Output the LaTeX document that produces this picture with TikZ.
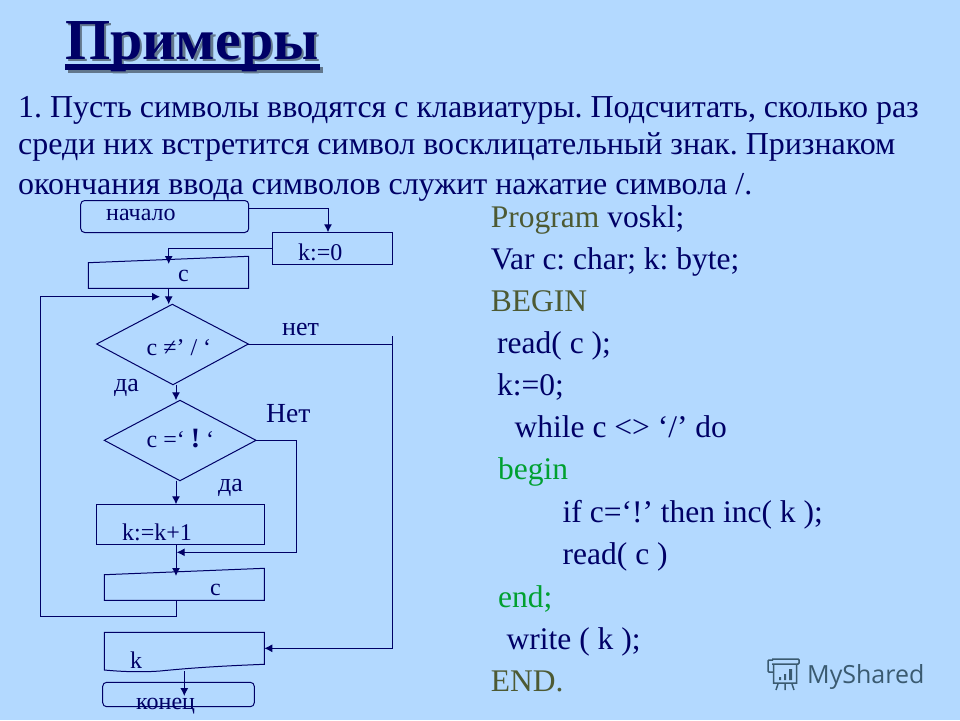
\documentclass[tikz,border=0pt]{standalone}
\usepackage{fontspec}
\setmainfont{Liberation Serif}
\newfontfamily\marksans{Open Sans}
\usetikzlibrary{arrows.meta}
\definecolor{bgblue}{HTML}{B3D9FF}
\definecolor{inkblue}{HTML}{000066}
\definecolor{codeolive}{HTML}{4D5A33}
\definecolor{codegreen}{HTML}{00A030}
\definecolor{markgray}{HTML}{3A5A70}
\frenchspacing
\begin{document}
\begin{tikzpicture}[x=1pt,y=-1pt,>={Latex[length=8pt,width=8pt]},
    block/.style = {draw=inkblue, line width=1pt, minimum width=#1, minimum height=32pt, inner sep=0pt},
    term/.style = {block=#1, rounded corners=4pt},
    flow/.style = {draw=inkblue, line width=1pt},
    txt/.style = {text=inkblue, anchor=base west, inner sep=0pt, font=\fontsize{24}{24}\selectfont},
    line/.style = {anchor=base west, inner sep=0pt, text=inkblue, font=\fontsize{31.95}{32}\selectfont},
    code/.style = {anchor=base west, inner sep=0pt, font=\fontsize{31.5}{31}\selectfont, text=inkblue}]
    \fill[bgblue] (0,0) rectangle (960,720);
    % title
    \node[anchor=base west, inner sep=0pt, text=black!45!bgblue, font=\bfseries\fontsize{58}{58}\selectfont] (titleshade) at (67.5,61.5) {Примеры};
    \fill[black!45!bgblue] (67.5,66.5) rectangle (322.5,72.5);
    \node[anchor=base west, inner sep=0pt, text=inkblue, font=\bfseries\fontsize{58}{58}\selectfont] (title) at (65,59) {Примеры};
    \fill[inkblue] (65,64) rectangle (320,70);
    % task
    \node[line] (t1) at (18,117.5) {1. Пусть символы вводятся с клавиатуры. Подсчитать, сколько раз};
    \node[line] (t2) at (18,154) {среди них встретится символ восклицательный знак. Признаком};
    \node[line] (t3) at (18,194) {окончания ввода символов служит нажатие символа /.};
    % flowchart boxes
    \node[term=168pt] (start) at (164.7,216.5) {};
    \node[block=120pt] (zero) at (332.3,248) {};
    \node[coordinate] (readnw) at (88.3,262.7) {};
    \node[coordinate] (readne) at (248.7,256.3) {};
    \node[coordinate] (readse) at (248.7,288.3) {};
    \node[coordinate] (readsw) at (88.3,288.3) {};
    \draw[flow] (readnw) -- (readne) -- (readse) -- (readsw) -- cycle;
    \node[coordinate] (d1n) at (172.3,304.3) {};
    \node[coordinate] (d1e) at (248.3,344) {};
    \node[coordinate] (d1s) at (173,384.7) {};
    \node[coordinate] (d1w) at (96.7,344) {};
    \draw[flow] (d1n) -- (d1e) -- (d1s) -- (d1w) -- cycle;
    \node[coordinate] (d2n) at (180,400.3) {};
    \node[coordinate] (d2e) at (256,440.3) {};
    \node[coordinate] (d2s) at (180,480.7) {};
    \node[coordinate] (d2w) at (104.3,440.3) {};
    \draw[flow] (d2n) -- (d2e) -- (d2s) -- (d2w) -- cycle;
    \node[block=168pt, minimum height=40pt] (inc) at (180.3,524.3) {};
    \node[coordinate] (againnw) at (104.3,574.7) {};
    \node[coordinate] (againne) at (264.3,568.3) {};
    \node[coordinate] (againse) at (264.3,600.3) {};
    \node[coordinate] (againsw) at (104.3,600.3) {};
    \draw[flow] (againnw) -- (againne) -- (againse) -- (againsw) -- cycle;
    \node[coordinate] (outnw) at (104.3,632.3) {};
    \node[coordinate] (outne) at (264.3,632.3) {};
    \node[coordinate] (outse) at (264.3,664.3) {};
    \node[coordinate] (outsw) at (104.3,670) {};
    \draw[flow] (outnw) -- (outne) -- (outse) .. controls (220,666) and (190,668) .. (160,671) .. controls (140,672.5) and (120,671.5) .. (outsw) -- cycle;
    \node[term=151.6pt, minimum height=24.4pt] (stop) at (178.5,694.5) {};
    % labels
    \node[txt] (starttxt) at (106,220.5) {начало};
    \node[txt] (zerotxt) at (298,260) {k:=0};
    \node[txt] (readtxt) at (178,281.5) {c};
    \node[txt] (d1txt) at (146.5,355) {c ≠’ / ‘};
    \node[txt] (d2txt) at (146.5,447) {c =‘ \textbf{\fontsize{28}{28}\selectfont !} ‘};
    \node[txt] (inctxt) at (122,540) {k:=k+1};
    \node[txt] (againtxt) at (210,595) {c};
    \node[txt] (outtxt) at (130,668) {k};
    \node[txt] (stoptxt) at (136,709) {конец};
    \node[txt, font=\fontsize{26}{26}\selectfont] (no1) at (282,335) {нет};
    \node[txt, font=\fontsize{27.6}{28}\selectfont] (no2) at (266,422) {Нет};
    \node[txt, font=\fontsize{26}{26}\selectfont] (yes1) at (114,391) {да};
    \node[txt, font=\fontsize{26}{26}\selectfont] (yes2) at (218,491.5) {да};
    % junctions
    \coordinate (a1) at (328,208);
    \coordinate (a2) at (328,232.3);
    \coordinate (b1) at (168.7,248.3);
    \coordinate (b2) at (168.7,264);
    \coordinate (c1) at (168.7,288.3);
    \coordinate (c2) at (168.7,304.3);
    \coordinate (e1) at (176,384.7);
    \coordinate (e2) at (176,400.3);
    \coordinate (f1) at (176,480.7);
    \coordinate (f2) at (176,504.3);
    \coordinate (g1) at (176,544.3);
    \coordinate (g2) at (176,576);
    \coordinate (h1) at (176,600.3);
    \coordinate (h2) at (176,616.3);
    \coordinate (h3) at (40.7,616.3);
    \coordinate (h4) at (40.7,296.7);
    \coordinate (h5) at (160,296.7);
    \coordinate (m1) at (296.7,440.3);
    \coordinate (m2) at (296.7,552.3);
    \coordinate (m3) at (176.7,552.3);
    \coordinate (n1) at (392.3,344);
    \coordinate (n0) at (392.3,336);
    \coordinate (n2) at (392.3,648.3);
    \coordinate (n3) at (264.3,648.3);
    \coordinate (p1) at (184.3,671);
    \coordinate (p2) at (184.3,696);
    % connectors
    \draw[flow,->] (a1 -| start.east) -- (a1) -- (a2);
    \draw[flow,->] (zero.west |- b1) -- (b1) -- (b2);
    \draw[flow,->] (c1) -- (c2);
    \draw[flow,->] (e1) -- (e2);
    \draw[flow,->] (f1) -- (f2);
    \draw[flow,->] (g1) -- (g2);
    \draw[flow,->] (h1) -- (h2) -- (h3) -- (h4) -- (h5);
    \draw[flow,->] (d2e) -- (m1) -- (m2) -- (m3);
    \draw[flow] (d1e) -- (n1);
    \draw[flow,->] (n0) -- (n2) -- (n3);
    \draw[flow,->] (p1) -- (p2);
    % code
    \node[code] (c01) at (490.7,227) {\textcolor{codeolive}{Program} voskl;};
    \node[code] (c02) at (490.7,269) {Var c: char; k: byte;};
    \node[code, text=codeolive] (c03) at (490.7,311) {BEGIN};
    \node[code] (c04) at (497,353) {read( c );};
    \node[code] (c05) at (497,395) {k:=0;};
    \node[code] (c06) at (514.5,437) {while c <> ‘/’ do};
    \node[code, text=codegreen] (c07) at (498,479) {begin};
    \node[code] (c08) at (562.5,522) {if c=‘!’ then inc( k );};
    \node[code] (c09) at (562.5,564) {read( c )};
    \node[code, text=codegreen] (c10) at (498,607) {end;};
    \node[code] (c11) at (506.5,649) {write ( k );};
    \node[code, text=codeolive] (c12) at (490.7,691) {END.};
    % mark
    \node[anchor=base west, inner sep=0pt, text=markgray, font=\marksans\fontsize{25}{25}\selectfont] (mark) at (807,683) {MyShared};
    \draw[markgray, line width=1.5pt, rounded corners=1pt] (772,659) -- (799,659) -- (799,664) -- (772,664) (773,660) -- (768,660) -- (768,672) -- (773,672);
    \draw[markgray, line width=1.5pt] (773.5,664) -- (773.5,683) -- (796.5,683) -- (796.5,664) (778,684) -- (776,690) (785,684) -- (785,690) (792,684) -- (794,690);
    \fill[markgray] (779,677) rectangle (781,680) (784,674) rectangle (786,680) (789,669) rectangle (792,680);
\end{tikzpicture}
\end{document}
